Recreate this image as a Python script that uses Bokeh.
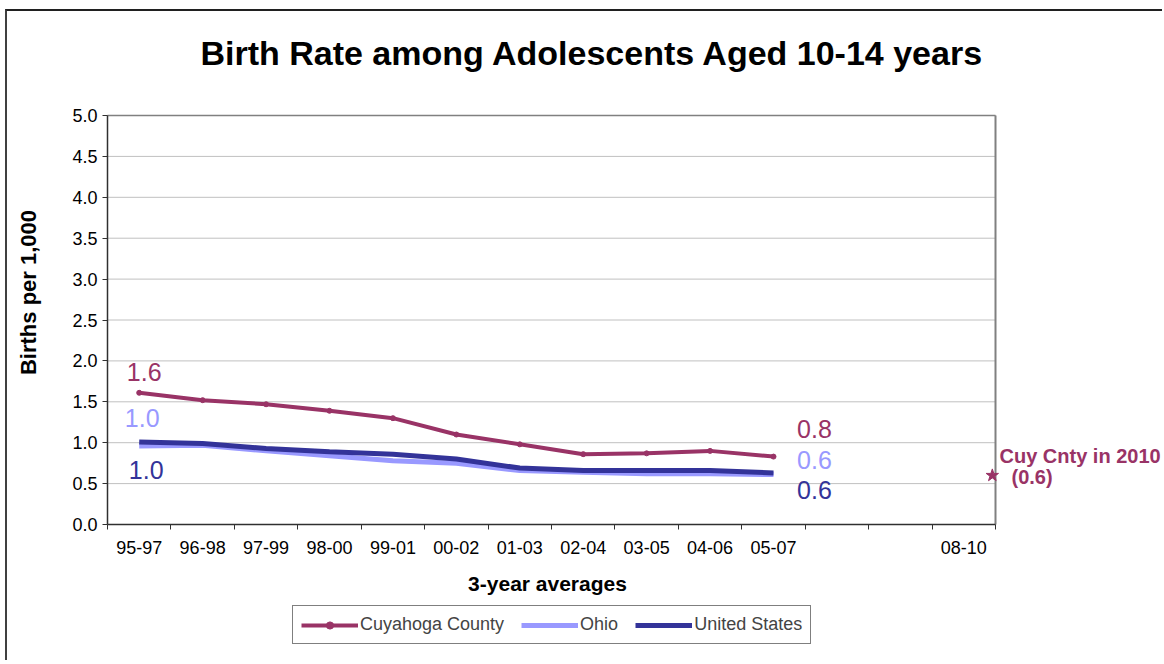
import math
from bokeh.plotting import figure
from bokeh.models import (Range1d, FixedTicker, NumeralTickFormatter, Legend,
                          LegendItem, ColumnDataSource)
from bokeh.core.properties import value
from bokeh.embed import file_html
from bokeh.resources import INLINE

# ---------------- data ----------------
periods = ["95-97", "96-98", "97-99", "98-00", "99-01", "00-02", "01-03",
           "02-04", "03-05", "04-06", "05-07", "06-08", "07-09", "08-10"]
shown_labels = ["95-97", "96-98", "97-99", "98-00", "99-01", "00-02", "01-03",
                "02-04", "03-05", "04-06", "05-07", "", "", "08-10"]
cuyahoga = [1.61, 1.52, 1.47, 1.39, 1.30, 1.10, 0.98, 0.86, 0.87, 0.90, 0.83]
ohio = [0.96, 0.97, 0.90, 0.84, 0.78, 0.75, 0.66, 0.64, 0.62, 0.62, 0.61]
united_states = [1.01, 0.99, 0.93, 0.89, 0.86, 0.80, 0.69, 0.66, 0.66, 0.66, 0.63]
cuy_2010 = 0.6
y_ticks = [0.0, 0.5, 1.0, 1.5, 2.0, 2.5, 3.0, 3.5, 4.0, 4.5, 5.0]

CUY = "#993366"
OHIO = "#9999FF"
US = "#333399"
FONT = "Liberation Sans"

n = len(periods)
Y_MAX = 5.0
xs = [i + 0.5 for i in range(len(cuyahoga))]

# ---------------- layout (page pixels) ----------------
PLOT_LEFT, PLOT_RIGHT, PLOT_TOP, PLOT_BOTTOM = 107, 995, 115, 524
CANVAS_LEFT, CANVAS_TOP = 7, 11
CANVAS_W, CANVAS_H = 1157, 651
PX_X = (PLOT_RIGHT - PLOT_LEFT) / n
PX_Y = (PLOT_BOTTOM - PLOT_TOP) / Y_MAX


def dx(px):
    return (px - PLOT_LEFT) / PX_X


def dy(py):
    return (PLOT_BOTTOM - py) / PX_Y


p = figure(width=CANVAS_W, height=CANVAS_H, min_border=0,
           x_range=Range1d(dx(CANVAS_LEFT), dx(CANVAS_LEFT + CANVAS_W)),
           y_range=Range1d(dy(CANVAS_TOP + CANVAS_H), dy(CANVAS_TOP)),
           output_backend="svg", toolbar_location=None)
p.styles = {"margin-left": "5px", "margin-top": "9px",
            "border-left": "2px solid #404040", "border-top": "2px solid #202020"}
p.outline_line_color = None
p.background_fill_color = "white"
p.border_fill_color = "white"

# x axis: labels at category centres, ticks at boundaries
xa = p.xaxis[0]
xa.fixed_location = 0
xa.bounds = (0, n)
xa.ticker = FixedTicker(ticks=[i + 0.5 for i in range(n)], minor_ticks=list(range(n + 1)))
xa.major_label_overrides = {i + 0.5: lab for i, lab in enumerate(shown_labels)}
xa.major_tick_line_color = None
xa.minor_tick_line_color = "#303030"
xa.minor_tick_in = 0
xa.minor_tick_out = 5
xa.axis_line_color = "#303030"
xa.axis_line_width = 1.5
xa.major_label_text_font = FONT
xa.major_label_text_font_size = "18px"
xa.major_label_text_color = "black"
xa.major_label_standoff = 10

ya = p.yaxis[0]
ya.fixed_location = 0
ya.bounds = (0, Y_MAX)
ya.ticker = FixedTicker(ticks=y_ticks)
ya.formatter = NumeralTickFormatter(format="0.0")
ya.major_tick_in = 0
ya.major_tick_out = 5
ya.minor_tick_line_color = None
ya.axis_line_color = "#303030"
ya.axis_line_width = 1.5
ya.major_tick_line_color = "#303030"
ya.major_label_text_font = FONT
ya.major_label_text_font_size = "18px"
ya.major_label_text_color = "black"
ya.major_label_standoff = 5

p.xgrid.grid_line_color = None
p.ygrid.grid_line_color = None

# horizontal grid lines and plot-area border, limited to the plot area
grid_y = y_ticks[1:]
p.segment(x0=[0] * len(grid_y), x1=[n] * len(grid_y), y0=grid_y, y1=grid_y,
          line_color="#C0C0C0", line_width=1)
p.segment(x0=[0], x1=[n], y0=[Y_MAX], y1=[Y_MAX], line_color="#808080", line_width=1.5)
p.segment(x0=[n], x1=[n], y0=[0], y1=[Y_MAX], line_color="#808080", line_width=2)

# series
r_cuy = p.line(xs, cuyahoga, line_color=CUY, line_width=4)
r_cuy_m = p.scatter(xs, cuyahoga, marker="circle", size=5, color=CUY)
r_ohio = p.line(xs, ohio, line_color=OHIO, line_width=5)
r_us = p.line(xs, united_states, line_color=US, line_width=5)

# 2010 star
star_x = periods.index("08-10") + 0.95
p.scatter([star_x], [cuy_2010], marker="star", size=13, color=CUY)

# value labels at first and last point
first, last = 0, len(cuyahoga) - 1
lab_src = ColumnDataSource(dict(
    x=[xs[first], xs[first], xs[first], xs[last], xs[last], xs[last]],
    y=[cuyahoga[first], ohio[first], united_states[first],
       cuyahoga[last], ohio[last], united_states[last]],
    text=["%.1f" % v for v in [cuyahoga[first], ohio[first], united_states[first],
                                cuyahoga[last], ohio[last], united_states[last]]],
    ox=[5, 3, 7, 41, 41, 41],
    oy=[-21, -28, 28, -28, -15, 17],
    color=[CUY, OHIO, US, CUY, OHIO, US],
))
p.text(x="x", y="y", text="text", x_offset="ox", y_offset="oy", text_color="color",
       text_align="center", text_baseline="middle", text_font=value(FONT),
       text_font_size="25px", source=lab_src)

# chart title and axis titles
p.text(x=[dx(592)], y=[dy(52)], text=["Birth Rate among Adolescents Aged 10-14 years"],
       text_font=value(FONT), text_font_size="34px", text_font_style="bold",
       text_align="center", text_baseline="middle", text_color="black")
p.text(x=[dx(28)], y=[dy(292)], text=["Births per 1,000"], angle=math.pi / 2,
       text_font=value(FONT), text_font_size="22px", text_font_style="bold",
       text_align="center", text_baseline="middle", text_color="black")
p.text(x=[dx(547)], y=[dy(583)], text=["3-year averages"],
       text_font=value(FONT), text_font_size="21px", text_font_style="bold",
       text_align="center", text_baseline="middle", text_color="black")

# note for 2010
p.text(x=[dx(999), dx(1011)], y=[dy(455), dy(476)], text=["Cuy Cnty in 2010", "(0.6)"],
       text_font=value(FONT), text_font_size="20px", text_font_style="bold",
       text_align="left", text_baseline="middle", text_color=CUY)

legend = Legend(items=[LegendItem(label="Cuyahoga County", renderers=[r_cuy, r_cuy_m]),
                       LegendItem(label="Ohio", renderers=[r_ohio]),
                       LegendItem(label="United States", renderers=[r_us])],
                orientation="horizontal",
                location=(292 - CANVAS_LEFT, CANVAS_TOP + CANVAS_H - 644),
                border_line_color="#000000", border_line_width=1,
                background_fill_color="white", background_fill_alpha=1,
                label_text_font=FONT, label_text_font_size="18px",
                glyph_width=57, glyph_height=18, label_standoff=2, spacing=17,
                padding=8, margin=0)
p.add_layout(legend)

open("out.html", "w").write(file_html(p, INLINE))
